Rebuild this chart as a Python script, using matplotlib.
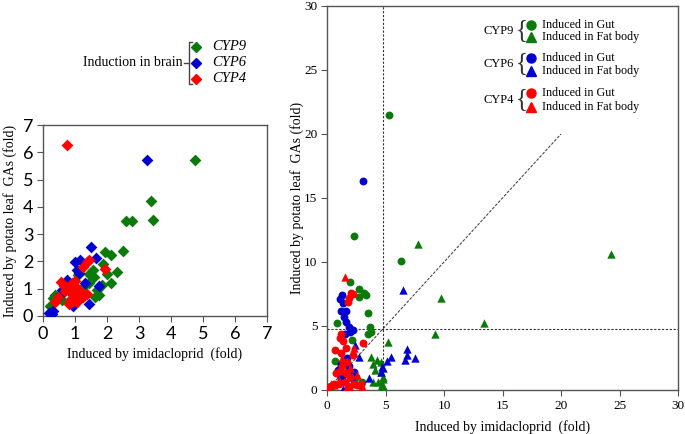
import matplotlib
matplotlib.use("Agg")
import matplotlib.pyplot as plt

# ---------------- data ----------------
# Left panel: induction in brain
brain_cyp9_x = [4.75, 3.375, 3.45, 2.59, 2.77, 2.49, 1.94, 2.13, 2.32, 2.11, 1.87, 1.99, 1.83, 1.68, 1.76,
                1.62, 1.58, 1.45, 1.31, 1.57, 0.38, 0.32, 0.22, 1.0, 1.2, 0.6, 1.45, 1.1, 0.8]
brain_cyp9_y = [5.72, 4.22, 3.52, 3.48, 3.48, 2.39, 2.36, 2.23, 1.62, 1.2, 1.9, 1.55, 1.13, 0.95, 0.77,
                0.71, 1.44, 1.2, 1.13, 1.68, 0.77, 0.65, 0.35, 1.1, 0.85, 0.6, 1.55, 1.5, 0.9]
brain_cyp6_x = [3.25, 1.49, 1.66, 1.0, 1.16, 1.05, 1.13, 1.76, 1.45, 0.93, 0.27, 0.32, 0.53, 0.74, 0.2,
                1.3, 0.85, 0.6]
brain_cyp6_y = [5.72, 2.52, 2.11, 1.99, 2.05, 1.69, 1.56, 1.1, 0.43, 0.35, 0.08, 0.17, 0.77, 1.32, 0.1,
                1.2, 0.9, 0.95]
brain_cyp4_x = [0.75, 0.55, 1.36, 1.26, 1.45, 1.94, 0.38, 0.48, 1.36, 1.26, 0.8, 0.9, 1.0, 1.1, 0.85,
                0.95, 1.05, 0.7, 0.9, 1.0, 1.15, 0.8, 0.95, 0.65, 1.1]
brain_cyp4_y = [6.25, 1.26, 1.99, 1.8, 2.07, 1.71, 0.53, 0.71, 0.81, 0.71, 1.0, 1.2, 1.3, 1.0, 0.6,
                0.8, 0.5, 0.9, 1.05, 0.75, 0.9, 0.45, 0.55, 1.1, 0.65]

# Right panel: gut (circles) and fat body (triangles)
gut_cyp9_x = [5.3, 2.3, 6.3, 1.95, 2.7, 3.15, 2.7, 3.3, 3.5, 0.85, 3.65, 3.8, 3.5, 0.65, 2.1, 2.5, 1.2,
              0.3, 1.6, 3.0, 2.26, 0.99]
gut_cyp9_y = [21.5, 12.0, 10.1, 8.45, 7.9, 7.55, 7.3, 7.4, 6.0, 5.25, 4.9, 4.55, 4.4, 2.3, 3.9, 1.0, 2.0,
              0.3, 1.3, 0.6, 0.9, 1.25]
fat_cyp9_x = [24.3, 7.8, 9.75, 13.4, 9.2, 5.2, 4.6, 4.8, 4.7, 3.8, 4.25, 3.95, 4.6, 4.1, 4.75, 3.95, 4.4,
              4.8, 1.7, 2.3, 0.3, 1.0, 4.5]
fat_cyp9_y = [10.6, 11.4, 7.2, 5.2, 4.4, 3.75, 1.4, 0.85, 0.5, 2.55, 2.35, 2.0, 2.2, 1.55, 1.05, 0.65,
              0.65, 0.3, 1.5, 0.9, 0.2, 0.7, 0.1]
gut_cyp6_x = [3.1, 1.27, 1.13, 1.33, 1.2, 1.6, 1.45, 1.6, 1.85, 2.2, 2.0, 1.55, 1.2, 1.7, 0.95, 1.4,
              1.9, 1.2, 2.3]
gut_cyp6_y = [16.35, 7.4, 7.1, 6.8, 6.2, 6.2, 5.7, 5.3, 4.95, 4.7, 4.55, 4.4, 2.0, 2.5, 1.6, 1.2,
              1.9, 0.9, 1.4]
fat_cyp6_x = [6.5, 6.85, 6.85, 6.7, 7.5, 5.5, 5.1, 4.7, 4.8, 4.6, 2.4, 2.7, 1.4, 3.6, 2.1, 0.9, 1.8]
fat_cyp6_y = [7.8, 3.2, 2.7, 2.35, 2.5, 2.6, 2.3, 1.8, 1.7, 1.4, 3.5, 2.6, 0.05, 0.9, 1.0, 1.7, 2.2]
gut_cyp4_x = [2.05, 2.2, 1.9, 1.8, 1.2, 1.1, 1.4, 1.6, 1.2, 0.7, 1.7, 1.3, 1.1, 1.6, 2.0, 2.3, 1.8, 1.9,
              1.0, 0.6, 0.3, 0.1, 0.0, 3.1, 2.6, 2.9, 2.2, 1.5, 0.8]
gut_cyp4_y = [7.6, 7.5, 7.2, 6.9, 4.4, 4.1, 3.8, 3.3, 2.9, 3.1, 2.2, 1.9, 1.5, 1.3, 1.0, 0.5, 0.3, 0.1,
              0.5, 0.5, 0.3, 0.2, 0.0, 3.7, 0.4, 0.5, 2.7, 0.6, 1.3]
fat_cyp4_x = [1.5, 2.3, 1.0, 2.0, 0.6, 1.7, 2.6, 0.3, 1.3, 3.0]
fat_cyp4_y = [8.8, 3.3, 0.8, 1.7, 0.4, 0.2, 1.2, 0.5, 2.5, 0.3]

left_ticks = [0, 1, 2, 3, 4, 5, 6, 7]
right_ticks = [0, 5, 10, 15, 20, 25, 30]
threshold_x = 4.75
threshold_y = 4.8
diag_end = 20

GREEN = "#0a7a0a"
BLUE = "#0000d0"
RED = "#ff0000"
SPINE = "#555555"
SERIF = "Liberation Serif"

fig = plt.figure(figsize=(6.85, 4.34), dpi=100)


def fx(px):
    return px / 685


def fy(py):
    return 1 - py / 434


def fline(xs, ys, **kw):
    fig.lines.append(plt.Line2D([fx(v) for v in xs], [fy(v) for v in ys],
                                transform=fig.transFigure, **kw))


# ---------------- left panel ----------------
axL = fig.add_axes([43 / 685, 1 - 316 / 434, 224 / 685, 191 / 434])
kw = dict(marker="D", s=36, linewidths=0, zorder=3)
axL.scatter(brain_cyp9_x, brain_cyp9_y, color=GREEN, **kw)
axL.scatter(brain_cyp6_x, brain_cyp6_y, color=BLUE, **kw)
axL.scatter(brain_cyp4_x, brain_cyp4_y, color=RED, **kw)
axL.set_xlim(0, 7)
axL.set_ylim(0, 7)
axL.set_xticks(left_ticks)
axL.set_yticks(left_ticks)
axL.tick_params(direction="out", length=4, color=SPINE, labelsize=13, pad=3)
for lab in axL.get_xticklabels() + axL.get_yticklabels():
    lab.set_family("Lato")
for sp in axL.spines.values():
    sp.set_color(SPINE)
    sp.set_linewidth(1.0)
axL.set_xlabel("Induced by imidacloprid  (fold)", family=SERIF, fontsize=10, labelpad=4)
axL.set_ylabel("Induced by potato leaf  GAs (fold)", family=SERIF, fontsize=10, labelpad=4)

# left legend: label, square bracket, markers
fig.text(fx(183), fy(63), "Induction in brain", family=SERIF, fontsize=10, ha="right", va="center")
bk = dict(color="#444444", linewidth=1.0)
fline([192, 189, 189, 192], [42, 42, 84, 84], **bk)
fline([184, 189], [63, 63], **bk)
for yy, col, name in [(47, GREEN, "CYP9"), (63, BLUE, "CYP6"), (79, RED, "CYP4")]:
    fline([196], [yy], marker="D", markersize=5, color=col, linestyle="none")
    fig.text(fx(212), fy(yy), name, family=SERIF, style="italic", fontsize=10.5, ha="left", va="center")

# ---------------- right panel ----------------
axR = fig.add_axes([327 / 685, 1 - 390 / 434, 351 / 685, 384 / 434])
ck = dict(marker="o", s=32, linewidths=0, zorder=3)
tk = dict(marker="^", s=36, linewidths=0, zorder=3)
axR.scatter(gut_cyp9_x, gut_cyp9_y, color=GREEN, **ck)
axR.scatter(fat_cyp9_x, fat_cyp9_y, color=GREEN, **tk)
axR.scatter(gut_cyp6_x, gut_cyp6_y, color=BLUE, **ck)
axR.scatter(fat_cyp6_x, fat_cyp6_y, color=BLUE, **tk)
axR.scatter(gut_cyp4_x, gut_cyp4_y, color=RED, **ck)
axR.scatter(fat_cyp4_x, fat_cyp4_y, color=RED, **tk)
axR.axvline(threshold_x, color="#333333", linestyle=(0, (2, 1.5)), linewidth=0.8, zorder=2)
axR.axhline(threshold_y, color="#333333", linestyle=(0, (2, 1.5)), linewidth=0.8, zorder=2)
axR.plot([0, diag_end], [0, diag_end], color="#333333", linestyle=(0, (3, 1.5)), linewidth=0.7, zorder=2)
axR.set_xlim(0, 30)
axR.set_ylim(0, 30)
axR.set_xticks(right_ticks)
axR.set_yticks(right_ticks)
axR.tick_params(direction="out", length=4, color=SPINE, labelsize=9.5, pad=3)
for lab in axR.get_xticklabels() + axR.get_yticklabels():
    lab.set_family(SERIF)
for sp in axR.spines.values():
    sp.set_color(SPINE)
    sp.set_linewidth(1.0)
axR.set_xlabel("Induced by imidacloprid  (fold)", family=SERIF, fontsize=10, labelpad=6)
axR.set_ylabel("Induced by potato leaf  GAs (fold)", family=SERIF, fontsize=10, labelpad=0)

# right legend
groups = [(31, 25, 37, GREEN, "CYP9"), (64, 58, 71, BLUE, "CYP6"), (100, 93, 107, RED, "CYP4")]
for yc, yg, yf, col, name in groups:
    fig.text(fx(514), fy(yc), name, family=SERIF, fontsize=9, ha="right", va="center")
    fig.text(fx(522), fy(yc - 1), "{", family=SERIF, fontsize=18, ha="center", va="center", color="#333333")
    fline([531], [yg], marker="o", markersize=6.5, color=col, linestyle="none")
    fline([531], [yf], marker="^", markersize=7, color=col, linestyle="none")
    fig.text(fx(542), fy(yg), "Induced in Gut", family=SERIF, fontsize=8.7, ha="left", va="center")
    fig.text(fx(542), fy(yf), "Induced in Fat body", family=SERIF, fontsize=8.7, ha="left", va="center")

fig.savefig("out.png", dpi=100)
